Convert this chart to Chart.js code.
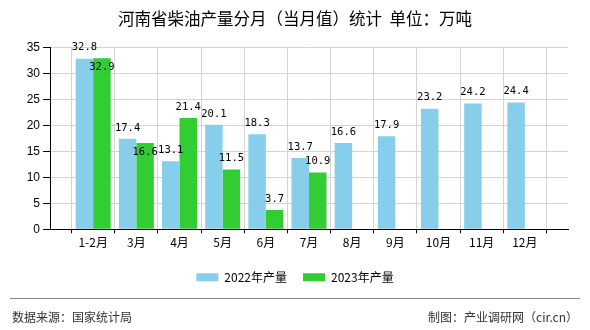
<!DOCTYPE html>
<html>
<head>
<meta charset="utf-8">
<script src="https://cdn.jsdelivr.net/npm/chart.js@4.4.0/dist/chart.umd.min.js"></script>
<style>
  body { margin: 0; background: #fff; }
  #box { width: 590px; height: 330px; }
</style>
</head>
<body>
<div id="box"><canvas id="chartDiesel"></canvas></div>
<script>
// meses e produção (万吨)
const months = ['1-2月', '3月', '4月', '5月', '6月', '7月', '8月', '9月', '10月', '11月', '12月'];
const prod2022 = [32.8, 17.4, 13.1, 20.1, 18.3, 13.7, 16.6, 17.9, 23.2, 24.2, 24.4];
const prod2023 = [32.9, 16.6, 21.4, 11.5, 3.7, 10.9, null, null, null, null, null];
const yTicks = [0, 5, 10, 15, 20, 25, 30, 35];

const FONT_CJK = '"Noto Sans CJK SC", "Noto Sans", sans-serif';

// uma posição vazia em cada ponta para as linhas verticais da grade
const labels = [''].concat(months, ['']);
const pad = arr => [null].concat(arr, [null]);

// rótulos de valor acima das barras; se o de 2023 bater no de 2022, vai para dentro da barra
const valueLabels = {
  id: 'valueLabels',
  afterDatasetsDraw(chart) {
    const ctx = chart.ctx;
    ctx.save();
    ctx.font = '10.5px "DejaVu Sans Mono", monospace';
    ctx.fillStyle = '#000';
    ctx.textAlign = 'center';
    ctx.textBaseline = 'middle';
    const placed = {};
    chart.data.datasets.forEach((ds, di) => {
      const meta = chart.getDatasetMeta(di);
      meta.data.forEach((bar, i) => {
        const v = ds.data[i];
        if (v === null || v === undefined) return;
        const text = v.toFixed(1);
        const w = ctx.measureText(text).width;
        let y = bar.y - 11;
        const prev = placed[i];
        if (prev && Math.abs(prev.x - bar.x) < (prev.w + w) / 2 && Math.abs(prev.y - y) < 11) {
          y = bar.y + 9;
        }
        placed[i] = { x: bar.x, y: y, w: w };
        ctx.fillText(text, bar.x, y);
      });
    });
    ctx.restore();
  }
};

// linha e textos do rodapé
const footer = {
  id: 'footer',
  afterDraw(chart) {
    const ctx = chart.ctx;
    ctx.save();
    ctx.strokeStyle = '#888';
    ctx.lineWidth = 1;
    ctx.beginPath();
    ctx.moveTo(10, 298.5);
    ctx.lineTo(580, 298.5);
    ctx.stroke();
    ctx.font = '12px ' + FONT_CJK;
    ctx.fillStyle = '#333';
    ctx.textBaseline = 'middle';
    ctx.textAlign = 'left';
    ctx.fillText('数据来源：国家统计局', 12, 317);
    ctx.textAlign = 'right';
    ctx.fillText('制图：产业调研网（cir.cn）', 578, 317);
    ctx.restore();
  }
};

const ctxDiesel = document.getElementById('chartDiesel').getContext('2d');
const chartDiesel = new Chart(ctxDiesel, {
  type: 'bar',
  data: {
    labels: labels,
    datasets: [{
      label: '2022年产量',
      data: pad(prod2022),
      backgroundColor: '#87CEEB',
      borderWidth: 0
    }, {
      label: '2023年产量',
      data: pad(prod2023),
      backgroundColor: '#32CD32',
      borderWidth: 0
    }]
  },
  options: {
    responsive: true,
    maintainAspectRatio: false,
    animation: false,
    categoryPercentage: 0.81,
    barPercentage: 1.0,
    layout: { padding: { left: 0, right: 0, top: 0, bottom: 36.7 } },
    plugins: {
      title: {
        display: true,
        text: '河南省柴油产量分月（当月值）统计  单位：万吨',
        color: '#000',
        font: { family: FONT_CJK, size: 16.5, weight: 'normal' },
        padding: { top: 9, bottom: 18.5 }
      },
      legend: {
        display: true,
        position: 'bottom',
        labels: {
          boxWidth: 22,
          boxHeight: 8,
          padding: 16,
          color: '#000',
          font: { family: FONT_CJK, size: 12 }
        }
      },
      tooltip: { enabled: false }
    },
    scales: {
      x: {
        offset: false,
        grid: { color: '#d3d3d3', tickColor: '#000', tickLength: 4 },
        border: { color: '#000', width: 1 },
        ticks: {
          autoSkip: false,
          maxRotation: 0,
          padding: 2,
          color: '#000',
          font: { family: FONT_CJK, size: 12 }
        },
        afterFit: scale => { scale.height = 26; }
      },
      y: {
        min: 0,
        max: 35,
        grid: { color: '#d3d3d3', tickColor: '#000', tickLength: 7 },
        border: { color: '#000', width: 1 },
        afterBuildTicks: scale => { scale.ticks = yTicks.map(v => ({ value: v })); },
        ticks: {
          padding: 3,
          color: '#000',
          font: { family: '"Liberation Sans", Arial, sans-serif', size: 12 }
        },
        afterFit: scale => { scale.width = 50; }
      },
      // eixo vazio à direita só para reservar a margem sem descentralizar título e legenda
      yRight: {
        type: 'linear',
        position: 'right',
        min: 0,
        max: 35,
        grid: { display: false },
        border: { display: false },
        ticks: { display: false },
        afterFit: scale => { scale.width = 22; }
      }
    }
  },
  plugins: [valueLabels, footer]
});
</script>
</body>
</html>
